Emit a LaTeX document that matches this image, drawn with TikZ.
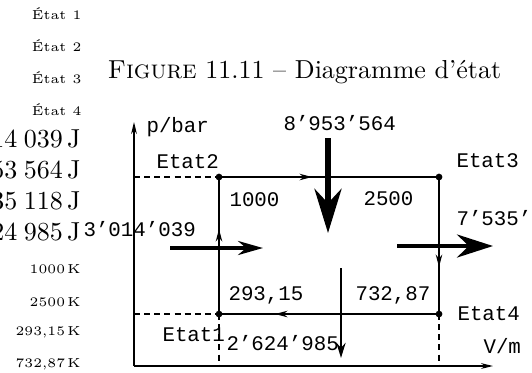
\documentclass[tikz,border=0pt]{standalone}
\usepackage{fontspec}
\setmonofont{Liberation Mono}
\usetikzlibrary{arrows.meta}

\begin{document}
\begin{tikzpicture}[x=0.3846pt, y=-0.3846pt,
  lbl/.style={font=\footnotesize\ttfamily, inner sep=0pt, anchor=base west},
  marge/.style={inner sep=0pt, anchor=base east},
  axe/.style={line width=0.5pt, -{Stealth[length=4.6pt, width=2.2pt]}},
  guide/.style={line width=0.4pt, dash pattern=on 2.3pt off 1.6pt},
  bord/.style={line width=0.5pt},
  sens/.style={line width=0.5pt, -{Stealth[length=4.8pt, width=2.5pt]}}
]
\useasboundingbox (0,0) rectangle (532,372);
\node[marge, font=\tiny] (e1) at (82,19) {État 1};
\node[marge, font=\tiny] (e2) at (82,51) {État 2};
\node[marge, font=\tiny] (e3) at (82,83) {État 3};
\node[marge, font=\tiny] (e4) at (82,115) {État 4};
\node[inner sep=0pt, anchor=base west] (titre) at (107,78) {\textsc{Figure}~11.11 -- Diagramme d'état};
\node[marge] (q1) at (81,147) {3\hspace{0.25em}014\hspace{0.25em}039\,J};
\node[marge] (q2) at (81,178) {8\hspace{0.25em}953\hspace{0.25em}564\,J};
\node[marge] (q3) at (81,209) {7\hspace{0.25em}535\hspace{0.25em}118\,J};
\node[marge] (q4) at (81,240) {2\hspace{0.25em}624\hspace{0.25em}985\,J};
\node[marge, font=\tiny] (t1) at (81,273) {1000\,K};
\node[marge, font=\tiny] (t2) at (81,306) {2500\,K};
\node[marge, font=\tiny] (t3) at (81,335) {293,15\,K};
\node[marge, font=\tiny] (t4) at (81,367) {732,87\,K};
\coordinate (O) at (134,366);
\coordinate (yHaut) at (134,122);
\coordinate (xFin) at (493,366);
\draw[axe] (O) -- (yHaut);
\draw[axe] (O) -- (xFin);
\node[lbl] (pAxe) at (146,132) {p/bar};
\node[lbl] (vAxe) at (483,353) {V/m};
\coordinate (etat1) at (219,314);
\coordinate (etat2) at (219,177);
\coordinate (etat3) at (439,177);
\coordinate (etat4) at (439,314);
\coordinate (p2) at (134,177);
\coordinate (p1) at (134,314);
\coordinate (v1) at (219,366);
\coordinate (v4) at (439,366);
\draw[guide] (p2) -- (etat2);
\draw[guide] (p1) -- (etat1);
\draw[guide] (etat1) -- (v1);
\draw[guide] (etat4) -- (v4);
\draw[bord] (etat2) -- (etat3) -- (etat4) -- (etat1) -- cycle;
\coordinate (m23) at (312,177);
\coordinate (m34) at (439,267);
\coordinate (m41) at (275,314);
\coordinate (m12) at (219,229);
\draw[sens] (etat2) -- (m23);
\draw[sens] (etat3) -- (m34);
\draw[sens] (etat4) -- (m41);
\draw[sens] (etat1) -- (m12);
\foreach \e in {etat1,etat2,etat3,etat4}
  \fill (\e) circle[radius=1.3pt];
\node[lbl] (lEtat1) at (162,341) {Etat1};
\node[lbl] (lEtat2) at (156,168) {Etat2};
\node[lbl] (lEtat3) at (456,167) {Etat3};
\node[lbl] (lEtat4) at (457,320) {Etat4};
\node[lbl] (T2) at (229,206) {1000};
\node[lbl] (T3) at (363,205) {2500};
\node[lbl] (T1) at (228,300) {293,15};
\node[lbl] (T4) at (355,300) {732,87};
\node[lbl] (lQc) at (283,130) {8’953’564};
\node[lbl] (lW1) at (83,236) {3’014’039};
\node[lbl] (lQf) at (456,225) {7’535’118};
\node[lbl] (lW2) at (226,350) {2’624’985};
\coordinate (qcA) at (328,138);
\coordinate (qcB) at (328,233);
\coordinate (w1A) at (170,248);
\coordinate (w1B) at (263,248);
\coordinate (qfA) at (397,246);
\coordinate (qfB) at (493,246);
\coordinate (w2A) at (341,268);
\coordinate (w2B) at (341,358);
\draw[line width=2.1pt, -{Stealth[length=17pt, width=10.4pt]}] (qcA) -- (qcB);
\draw[line width=1.3pt, -{Stealth[length=9.6pt, width=5.4pt]}] (w1A) -- (w1B);
\draw[line width=1.9pt, -{Stealth[length=13.8pt, width=8.8pt]}] (qfA) -- (qfB);
\draw[line width=1.1pt, -{Stealth[length=5.8pt, width=3.5pt]}] (w2A) -- (w2B);
\end{tikzpicture}
\end{document}
